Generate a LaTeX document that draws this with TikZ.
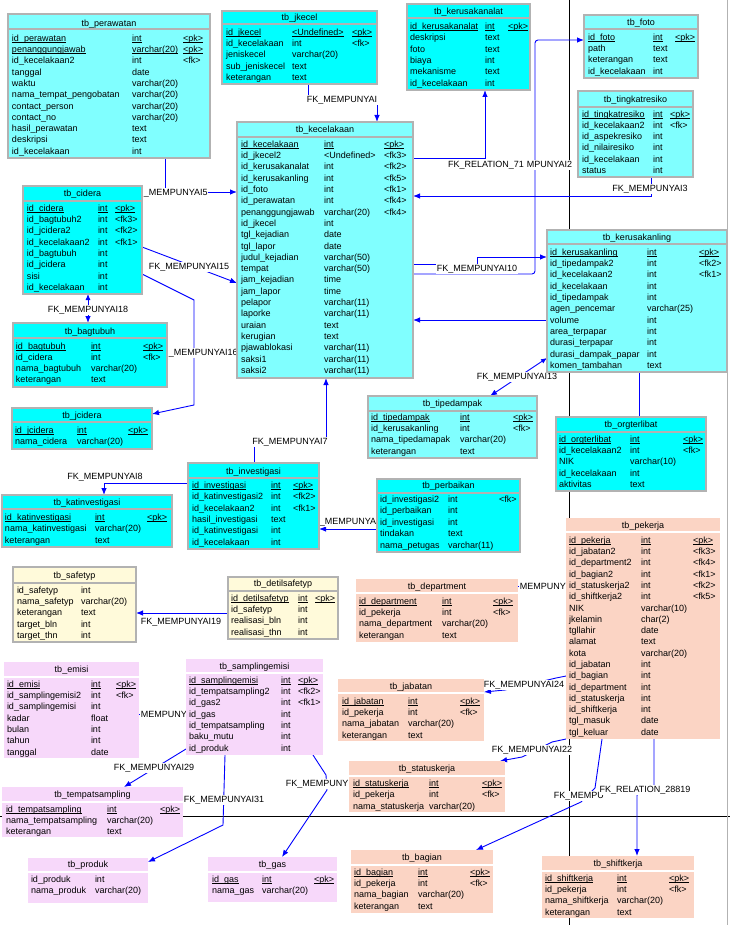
\documentclass[tikz,border=0pt]{standalone}
\usepackage{fontspec}
\setmainfont{Liberation Sans}
\usetikzlibrary{arrows.meta,calc}
\definecolor{cyL}{RGB}{128,255,255}
\definecolor{cyB}{RGB}{0,255,255}
\definecolor{ylw}{RGB}{255,250,218}
\definecolor{pch}{RGB}{251,212,196}
\definecolor{vio}{RGB}{247,216,250}
\definecolor{bgr}{RGB}{178,178,178}
\definecolor{lnk}{RGB}{0,0,255}
\pgfdeclarelayer{bgl}
\pgfdeclarelayer{conn}
\pgfsetlayers{bgl,conn,main}
\tikzset{
 tbbase/.style={rectangle, inner sep=0pt, outer sep=0pt},
 tbC/.style={tbbase, fill=cyL, draw=bgr, line width=1.2pt},
 tbB/.style={tbbase, fill=cyB, draw=bgr, line width=1.2pt},
 tbY/.style={tbbase, fill=ylw, draw=bgr, line width=1.2pt},
 tbP/.style={tbbase, fill=pch},
 tbV/.style={tbbase, fill=vio},
 sepC/.style={draw=bgr, line width=1.2pt},
 sepB/.style={draw=bgr, line width=1.2pt},
 sepY/.style={draw=bgr, line width=1.2pt},
 sepP/.style={draw=white, line width=1.2pt},
 sepV/.style={draw=white, line width=1.2pt},
 cell/.style={anchor=base west, inner sep=0pt, outer sep=0pt},
 ttl/.style={anchor=base, inner sep=0pt},
 fk/.style={draw=lnk, line width=0.9pt, -{Latex[length=7pt,width=5.5pt]}},
 fkb/.style={draw=lnk, line width=0.9pt, {Latex[length=6pt,width=5pt]}-{Latex[length=7pt,width=5.5pt]}},
 fkn/.style={draw=lnk, line width=0.9pt},
 lbl/.style={fill=white, inner sep=0.6pt, text height=6.6pt, text depth=2pt, anchor=base},
 lblw/.style={lbl, anchor=base west},
 pageline/.style={draw=black, line width=1pt},
}
\newcounter{erc}
\newcommand\eul[1]{\setbox0\hbox{#1}\rlap{\rule[-1.4pt]{\wd0}{0.75pt}}\box0}
\newcommand\ertable[9]{%
 \node[tb#2, minimum width={#5-#3}, minimum height={#6-#4}, anchor=north west] (#1) at (#3,#4) {};
 \draw[sep#2] (#3,#8) -- (#5,#8);
 \node[ttl] (#1-title) at ({(#3+#5)/2},{#7+3.3}) {#9};
}
\newcommand\ecols[6]{\def\ecA{#1}\def\ecB{#2}\def\ecC{#3}\def\ecY{#4}\def\ecD{#5}\def\ecN{#6}\setcounter{erc}{0}}
\newcommand\erow[3]{%
 \pgfmathsetmacro\ecy{\ecY+\ecD*\arabic{erc}+3.3}%
 \node[cell] (\ecN-n\arabic{erc}) at (\ecA,\ecy) {#1};%
 \node[cell] (\ecN-t\arabic{erc}) at (\ecB,\ecy) {#2};%
 \def\ectmp{#3}\ifx\ectmp\empty\else\node[cell] (\ecN-k\arabic{erc}) at (\ecC,\ecy) {#3};\fi
 \stepcounter{erc}}
\newcommand\epk[3]{%
 \pgfmathsetmacro\ecy{\ecY+\ecD*\arabic{erc}+3.3}%
 \node[cell] (\ecN-n\arabic{erc}) at (\ecA,\ecy) {\eul{#1}};%
 \node[cell] (\ecN-t\arabic{erc}) at (\ecB,\ecy) {\eul{#2}};%
 \node[cell] (\ecN-k\arabic{erc}) at (\ecC,\ecy) {\eul{#3}};%
 \stepcounter{erc}}
\begin{document}
\begin{tikzpicture}[x=1pt,y=-1pt,font=\fontsize{9}{10}\selectfont]
\useasboundingbox (0,0) rectangle (730,925);
\begin{pgfonlayer}{bgl}
\fill[white] (0,0) rectangle (730,925);
\draw[pageline] (569,0) -- (569,925);
\draw[pageline] (0,816) -- (730,816);
\draw[draw=bgr, line width=1pt] (727,0) -- (727,925);
\end{pgfonlayer}

% ---------- tables ----------
\ertable{perawatan}{C}{8}{14}{210}{158}{23}{29}{tb\_perawatan}
\ecols{12}{132}{183}{38}{11.3}{perawatan}
\epk{id\_perawatan}{int}{<pk>}
\epk{penanggungjawab}{varchar(20)}{<pk>}
\erow{id\_kecelakaan2}{int}{<fk>}
\erow{tanggal}{date}{}
\erow{waktu}{varchar(20)}{}
\erow{nama\_tempat\_pengobatan}{varchar(20)}{}
\erow{contact\_person}{varchar(20)}{}
\erow{contact\_no}{varchar(20)}{}
\erow{hasil\_perawatan}{text}{}
\erow{deskripsi}{text}{}
\erow{id\_kecelakaan}{int}{}

\ertable{jkecel}{B}{222}{11}{377}{84}{17}{24}{tb\_jkecel}
\ecols{226}{292}{352}{32}{11.25}{jkecel}
\epk{id\_jkecel}{<Undefined>}{<pk>}
\erow{id\_kecelakaan}{int}{<fk>}
\erow{jeniskecel}{varchar(20)}{}
\erow{sub\_jeniskecel}{text}{}
\erow{keterangan}{text}{}

\ertable{kerusakanalat}{B}{407}{4}{530}{90}{11}{18}{tb\_kerusakanalat}
\ecols{410}{485}{508}{26}{11.4}{kerusakanalat}
\epk{id\_kerusakanalat}{int}{<pk>}
\erow{deskripsi}{text}{}
\erow{foto}{text}{}
\erow{biaya}{int}{}
\erow{mekanisme}{text}{}
\erow{id\_kecelakaan}{int}{}

\ertable{foto}{C}{584}{15}{698}{78}{22}{29}{tb\_foto}
\ecols{588}{653}{675}{37}{11.33}{foto}
\epk{id\_foto}{int}{<pk>}
\erow{path}{text}{}
\erow{keterangan}{text}{}
\erow{id\_kecelakaan}{int}{}

\ertable{tingkatresiko}{C}{578}{91}{693}{177}{99}{107}{tb\_tingkatresiko}
\ecols{582}{653}{670}{114}{11.2}{tingkatresiko}
\epk{id\_tingkatresiko}{int}{<pk>}
\erow{id\_kecelakaan2}{int}{<fk>}
\erow{id\_aspekresiko}{int}{}
\erow{id\_nilairesiko}{int}{}
\erow{id\_kecelakaan}{int}{}
\erow{status}{int}{}

\ertable{cidera}{B}{23}{186}{142}{294}{193}{201}{tb\_cidera}
\ecols{27}{98}{115}{208}{11.29}{cidera}
\epk{id\_cidera}{int}{<pk>}
\erow{id\_bagtubuh2}{int}{<fk3>}
\erow{id\_jcidera2}{int}{<fk2>}
\erow{id\_kecelakaan2}{int}{<fk1>}
\erow{id\_bagtubuh}{int}{}
\erow{id\_jcidera}{int}{}
\erow{sisi}{int}{}
\erow{id\_kecelakaan}{int}{}

\ertable{bagtubuh}{B}{13}{323}{167}{387}{331}{338}{tb\_bagtubuh}
\ecols{16}{91}{143}{346}{11}{bagtubuh}
\epk{id\_bagtubuh}{int}{<pk>}
\erow{id\_cidera}{int}{<fk>}
\erow{nama\_bagtubuh}{varchar(20)}{}
\erow{keterangan}{text}{}

\ertable{jcidera}{B}{12}{408}{152}{449}{415}{422}{tb\_jcidera}
\ecols{15}{77}{128}{430}{11}{jcidera}
\epk{id\_jcidera}{int}{<pk>}
\erow{nama\_cidera}{varchar(20)}{}

\ertable{kecelakaan}{C}{237}{122}{413}{378}{129}{137}{tb\_kecelakaan}
\ecols{241}{324}{384}{144}{11.3}{kecelakaan}
\epk{id\_kecelakaan}{int}{<pk>}
\erow{id\_jkecel2}{<Undefined>}{<fk3>}
\erow{id\_kerusakanalat}{int}{<fk2>}
\erow{id\_kerusakanling}{int}{<fk5>}
\erow{id\_foto}{int}{<fk1>}
\erow{id\_perawatan}{int}{<fk4>}
\erow{penanggungjawab}{varchar(20)}{<fk4>}
\erow{id\_jkecel}{int}{}
\erow{tgl\_kejadian}{date}{}
\erow{tgl\_lapor}{date}{}
\erow{judul\_kejadian}{varchar(50)}{}
\erow{tempat}{varchar(50)}{}
\erow{jam\_kejadian}{time}{}
\erow{jam\_lapor}{time}{}
\erow{pelapor}{varchar(11)}{}
\erow{laporke}{varchar(11)}{}
\erow{uraian}{text}{}
\erow{kerugian}{text}{}
\erow{pjawablokasi}{varchar(11)}{}
\erow{saksi1}{varchar(11)}{}
\erow{saksi2}{varchar(11)}{}

\ertable{kerusakanling}{C}{547}{230}{727}{372}{237}{244}{tb\_kerusakanling}
\ecols{550}{647}{699}{252}{11.3}{kerusakanling}
\epk{id\_kerusakanling}{int}{<pk>}
\erow{id\_tipedampak2}{int}{<fk2>}
\erow{id\_kecelakaan2}{int}{<fk1>}
\erow{id\_kecelakaan}{int}{}
\erow{id\_tipedampak}{int}{}
\erow{agen\_pencemar}{varchar(25)}{}
\erow{volume}{int}{}
\erow{area\_terpapar}{int}{}
\erow{durasi\_terpapar}{int}{}
\erow{durasi\_dampak\_papar}{int}{}
\erow{komen\_tambahan}{text}{}

\ertable{tipedampak}{C}{368}{396}{537}{458}{403}{411}{tb\_tipedampak}
\ecols{371}{460}{513}{417}{11.33}{tipedampak}
\epk{id\_tipedampak}{int}{<pk>}
\erow{id\_kerusakanling}{int}{<fk>}
\erow{nama\_tipedamapak}{varchar(20)}{}
\erow{keterangan}{text}{}

\ertable{orgterlibat}{B}{556}{417}{706}{491}{424}{432}{tb\_orgterlibat}
\ecols{559}{630}{683}{439}{11.25}{orgterlibat}
\epk{id\_orgterlibat}{int}{<pk>}
\erow{id\_kecelakaan2}{int}{<fk>}
\erow{NIK}{varchar(10)}{}
\erow{id\_kecelakaan}{int}{}
\erow{aktivitas}{text}{}

\ertable{investigasi}{B}{188}{463}{319}{549}{471}{478}{tb\_investigasi}
\ecols{192}{271}{293}{485}{11.4}{investigasi}
\epk{id\_investigasi}{int}{<pk>}
\erow{id\_katinvestigasi2}{int}{<fk2>}
\erow{id\_kecelakaan2}{int}{<fk1>}
\erow{hasil\_investigasi}{text}{}
\erow{id\_katinvestigasi}{int}{}
\erow{id\_kecelakaan}{int}{}

\ertable{katinvestigasi}{B}{2}{495}{172}{547}{502}{509}{tb\_katinvestigasi}
\ecols{5}{95}{147}{517}{11.5}{katinvestigasi}
\epk{id\_katinvestigasi}{int}{<pk>}
\erow{nama\_katinvestigasi}{varchar(20)}{}
\erow{keterangan}{text}{}

\ertable{perbaikan}{B}{377}{479}{520}{552}{485}{493}{tb\_perbaikan}
\ecols{380}{448}{499}{499}{11.5}{perbaikan}
\erow{id\_investigasi2}{int}{<fk>}
\erow{id\_perbaikan}{int}{}
\erow{id\_investigasi}{int}{}
\erow{tindakan}{text}{}
\erow{nama\_petugas}{varchar(11)}{}

\ertable{safetyp}{Y}{13}{567}{136}{642}{575}{583}{tb\_safetyp}
\ecols{17}{81}{120}{590}{11.25}{safetyp}
\erow{id\_safetyp}{int}{}
\erow{nama\_safetyp}{varchar(20)}{}
\erow{keterangan}{text}{}
\erow{target\_bln}{int}{}
\erow{target\_thn}{int}{}

\ertable{detilsafetyp}{Y}{228}{577}{338}{639}{583}{591}{tb\_detilsafetyp}
\ecols{231}{298}{315}{598}{11.33}{detilsafetyp}
\epk{id\_detilsafetyp}{int}{<pk>}
\erow{id\_safetyp}{int}{}
\erow{realisasi\_bln}{int}{}
\erow{realisasi\_thn}{int}{}

\ertable{department}{P}{356}{579}{518}{642}{586}{593}{tb\_department}
\ecols{359}{442}{493}{601}{11.33}{department}
\epk{id\_department}{int}{<pk>}
\erow{id\_pekerja}{int}{<fk>}
\erow{nama\_department}{varchar(20)}{}
\erow{keterangan}{text}{}

\ertable{pekerja}{P}{566}{518}{720}{739}{525}{532}{tb\_pekerja}
\ecols{569}{641}{693}{540}{11.29}{pekerja}
\epk{id\_pekerja}{int}{<pk>}
\erow{id\_jabatan2}{int}{<fk3>}
\erow{id\_department2}{int}{<fk4>}
\erow{id\_bagian2}{int}{<fk1>}
\erow{id\_statuskerja2}{int}{<fk2>}
\erow{id\_shiftkerja2}{int}{<fk5>}
\erow{NIK}{varchar(10)}{}
\erow{jkelamin}{char(2)}{}
\erow{tgllahir}{date}{}
\erow{alamat}{text}{}
\erow{kota}{varchar(20)}{}
\erow{id\_jabatan}{int}{}
\erow{id\_bagian}{int}{}
\erow{id\_department}{int}{}
\erow{id\_statuskerja}{int}{}
\erow{id\_shiftkerja}{int}{}
\erow{tgl\_masuk}{date}{}
\erow{tgl\_keluar}{date}{}

\ertable{emisi}{V}{4}{662}{139}{758}{669}{677}{tb\_emisi}
\ecols{7}{91}{116}{684}{11.33}{emisi}
\epk{id\_emisi}{int}{<pk>}
\erow{id\_samplingemisi2}{int}{<fk>}
\erow{id\_samplingemisi}{int}{}
\erow{kadar}{float}{}
\erow{bulan}{int}{}
\erow{tahun}{int}{}
\erow{tanggal}{date}{}

\ertable{samplingemisi}{V}{186}{659}{323}{755}{666}{673}{tb\_samplingemisi}
\ecols{189}{281}{298}{680}{11.33}{samplingemisi}
\epk{id\_samplingemisi}{int}{<pk>}
\erow{id\_tempatsampling2}{int}{<fk2>}
\erow{id\_gas2}{int}{<fk1>}
\erow{id\_gas}{int}{}
\erow{id\_tempatsampling}{int}{}
\erow{baku\_mutu}{int}{}
\erow{id\_produk}{int}{}

\ertable{jabatan}{P}{338}{679}{484}{741}{686}{693}{tb\_jabatan}
\ecols{342}{408}{460}{701}{11.33}{jabatan}
\epk{id\_jabatan}{int}{<pk>}
\erow{id\_pekerja}{int}{<fk>}
\erow{nama\_jabatan}{varchar(20)}{}
\erow{keterangan}{text}{}

\ertable{statuskerja}{P}{349}{761}{505}{812}{768}{776}{tb\_statuskerja}
\ecols{353}{429}{482}{783}{11.5}{statuskerja}
\epk{id\_statuskerja}{int}{<pk>}
\erow{id\_pekerja}{int}{<fk>}
\erow{nama\_statuskerja}{varchar(20)}{}

\ertable{tempatsampling}{V}{2}{787}{183}{837}{794}{802}{tb\_tempatsampling}
\ecols{6}{107}{160}{809}{11}{tempatsampling}
\epk{id\_tempatsampling}{int}{<pk>}
\erow{nama\_tempatsampling}{varchar(20)}{}
\erow{keterangan}{text}{}

\ertable{produk}{V}{28}{858}{148}{903}{864}{872}{tb\_produk}
\ecols{31}{95}{130}{879}{11}{produk}
\erow{id\_produk}{int}{}
\erow{nama\_produk}{varchar(20)}{}

\ertable{gas}{V}{208}{857}{337}{902}{864}{872}{tb\_gas}
\ecols{212}{262}{314}{879}{11}{gas}
\epk{id\_gas}{int}{<pk>}
\erow{nama\_gas}{varchar(20)}{}

\ertable{bagian}{P}{351}{850}{493}{913}{857}{865}{tb\_bagian}
\ecols{354}{418}{470}{872}{11.33}{bagian}
\epk{id\_bagian}{int}{<pk>}
\erow{id\_pekerja}{int}{<fk>}
\erow{nama\_bagian}{varchar(20)}{}
\erow{keterangan}{text}{}

\ertable{shiftkerja}{P}{542}{856}{694}{918}{863}{871}{tb\_shiftkerja}
\ecols{545}{617}{669}{878}{11.33}{shiftkerja}
\epk{id\_shiftkerja}{int}{<pk>}
\erow{id\_pekerja}{int}{<fk>}
\erow{nama\_shiftkerja}{varchar(20)}{}
\erow{keterangan}{text}{}

% ---------- connectors ----------
\begin{pgfonlayer}{conn}
\draw[fk] (jkecel.south -| 308,0) -- (308,99) -- (377,99) -- (kecelakaan.north -| 377,0);
\draw[fk] (kecelakaan.east |- 0,158) -- (485,158) -- (kerusakanalat.south -| 485,0);
\draw[fk, rounded corners=3pt] (kecelakaan.east |- 0,274) -- (535,274) -- (535,40) -- (foto.west |- 0,40);
\draw[fk] (tingkatresiko.south -| 651,0) -- (651,196) -- (kecelakaan.east |- 0,196);
\draw[fk] (kecelakaan.east |- 0,264) -- (477,264) -- (477,257) -- (kerusakanling.west |- 0,257);
\draw[fk] (kerusakanling.west |- 0,320) -- (kecelakaan.east |- 0,320);
\draw[fkb] (kerusakanling.west |- 0,358) -- (tipedampak.north -| 490,0);
\draw[fkn] (kerusakanling.south -| 639,0) -- (orgterlibat.north -| 639,0);
\draw[fk] (perawatan.south -| 165,0) -- (165,192) -- (kecelakaan.west |- 0,192);
\draw[fk] (cidera.east |- 0,247) -- (kecelakaan.west |- 0,283);
\draw[fk] (cidera.east |- 0,274) -- (194,300) -- (194,405) -- (jcidera.east |- 0,414);
\draw[fkb] (cidera.south -| 88,0) -- (bagtubuh.north -| 88,0);
\draw[fk] (investigasi.north -| 254,0) -- (254,441) -- (326,441) -- (kecelakaan.south -| 326,0);
\draw[fk] (investigasi.west |- 0,483) -- (104,483) -- (katinvestigasi.north -| 104,0);
\draw[fk] (perbaikan.west |- 0,529) -- (investigasi.east |- 0,529);
\draw[fk] (detilsafetyp.west |- 0,613) -- (safetyp.east |- 0,613);
\draw[fkn] (department.east |- 0,586) -- (pekerja.west |- 0,586);
\draw[fk] (pekerja.west |- 0,676) -- (556,678) -- (505,690) -- (jabatan.east |- 0,692);
\draw[fk] (pekerja.south west) -- (552,742) -- (522,757) -- (statuskerja.north -| 500,0);
\draw[fk] (pekerja.south -| 602,0) -- (595,788) -- (581,802) -- (bagian.north -| 476,0);
\draw[fk] (pekerja.south -| 654,0) -- (654,786) -- (637,795) -- (shiftkerja.north -| 637,0);
\draw[fk] (samplingemisi.west |- 0,749) -- (tempatsampling.north -| 124,0);
\draw[fk] (samplingemisi.south -| 225,0) -- (223,825) -- (produk.east |- 0,862);
\draw[fk] (samplingemisi.south -| 313,0) -- (326,775) -- (327,790) -- (gas.north -| 282,0);
\draw[fkn] (samplingemisi.west |- 0,714) -- (emisi.east |- 0,714);

\node[lbl] (l1) at (342,102.3) {FK\_MEMPUNYAI};
\node[lblw] (l3) at (526,167.3) {MPUNYAI2};
\node[lbl] (l2) at (486,167.3) {FK\_RELATION\_71};
\node[lbl] (l4) at (650,191.3) {FK\_MEMPUNYAI3};
\node[lbl] (l5) at (477,271.3) {FK\_MEMPUNYAI10};
\node[lbl] (l7) at (517,379.3) {FK\_MEMPUNYAI13};
\node[lblw] (l9) at (143,195.3) {\_MEMPUNYAI5};
\node[lbl] (l10) at (189,269.3) {FK\_MEMPUNYAI15};
\node[lblw] (l11) at (168,355.3) {\_MEMPUNYAI16};
\node[lbl] (l12) at (88,312.3) {FK\_MEMPUNYAI18};
\node[lbl] (l13) at (290,444.3) {FK\_MEMPUNYAI7};
\node[lbl] (l14) at (105,479.3) {FK\_MEMPUNYAI8};
\node[lblw] (l15) at (319,524.3) {\_MEMPUNYA};
\node[lbl] (l16) at (181,624.3) {FK\_MEMPUNYAI19};
\node[lblw] (l17) at (519,589.3) {MEMPUNY};
\node[lbl] (l18) at (524,687.3) {FK\_MEMPUNYAI24};
\node[lbl] (l19) at (532,752.3) {FK\_MEMPUNYAI22};
\node[lblw] (l20) at (553,798.3) {FK\_MEMPU};
\node[lbl] (l21) at (645,792.3) {FK\_RELATION\_28819};
\node[lbl] (l22) at (154,770.3) {FK\_MEMPUNYAI29};
\node[lbl] (l23) at (224,802.3) {FK\_MEMPUNYAI31};
\node[lblw] (l24) at (285,786.3) {FK\_MEMPUNY};
\node[lblw] (l25) at (140,717.3) {MEMPUNY};
\end{pgfonlayer}
\end{tikzpicture}
\end{document}
